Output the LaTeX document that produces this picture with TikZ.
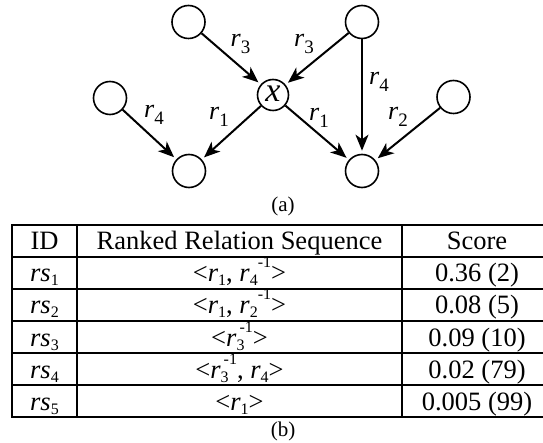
\documentclass[tikz,border=0pt]{standalone}
\usepackage{fontspec}
\setmainfont{Liberation Serif}
\usetikzlibrary{arrows.meta}
\newcommand\glo[1]{\raisebox{-7pt}{\fontsize{19}{19}\selectfont #1}}
\newcommand\tlo[1]{\raisebox{-4pt}{\fontsize{16}{16}\selectfont #1}}
\newcommand\thi[1]{\raisebox{14pt}{\fontsize{16}{16}\selectfont #1}}
\begin{document}
\begin{tikzpicture}[x=1pt,y=-1pt,
  vtx/.style={circle,draw,line width=1.6pt,minimum size=33pt,inner sep=0pt},
  xvtx/.style={circle,draw,line width=1.6pt,minimum size=31pt,inner sep=0pt,font=\fontsize{34}{34}\selectfont\itshape},
  edge/.style={line width=2pt,-{Stealth[length=16pt,width=13pt,inset=4.5pt]},shorten >=3pt},
  lbl/.style={anchor=base west,inner sep=0pt,font=\fontsize{26}{26}\selectfont},
  cell/.style={anchor=base,inner sep=0pt,font=\fontsize{26.5}{26.5}\selectfont},
  capt/.style={anchor=base,inner sep=0pt,font=\fontsize{21}{21}\selectfont},
  gridline/.style={line width=1.4pt}]
\clip (0,0) rectangle (543,443);
% graph nodes
\node[vtx] (tl) at (188.5,22) {};
\node[vtx] (tr) at (362,22) {};
\node[xvtx] (x) at (273,95) {\raisebox{2pt}{x}};
\node[vtx] (ml) at (110,98) {};
\node[vtx] (mr) at (453.5,97) {};
\node[vtx] (bl) at (189,171) {};
\node[vtx] (br) at (362,171) {};
% edges
\draw[edge] (tl) -- (x);
\draw[edge] (tr) -- (x);
\draw[edge] (tr) -- (br);
\draw[edge] (x) -- (bl);
\draw[edge] (x) -- (br);
\draw[edge] (ml) -- (bl);
\draw[edge] (mr) -- (br);
% edge labels
\node[lbl] (l1) at (230.5,47) {\textit{r}\glo{3}};
\node[lbl] (l2) at (294,47) {\textit{r}\glo{3}};
\node[lbl] (l3) at (369,85) {\textit{r}\glo{4}};
\node[lbl] (l4) at (144,118) {\textit{r}\glo{4}};
\node[lbl] (l5) at (209,120) {\textit{r}\glo{1}};
\node[lbl] (l6) at (309,121) {\textit{r}\glo{1}};
\node[lbl] (l7) at (388,120) {\textit{r}\glo{2}};
\node[capt] (ca) at (283,212) {(a)};
% table grid
\draw[gridline] (12,225) rectangle (552,417);
\foreach \yy in {257,289,321,353,385}
  \draw[gridline] (12,\yy) -- (552,\yy);
\draw[gridline] (77,225) -- (77,417);
\draw[gridline] (402,225) -- (402,417);
% header
\node[cell] (h1) at (44.5,250) {ID};
\node[cell] (h2) at (239.5,250) {Ranked Relation Sequence};
\node[cell] (h3) at (477,250) {Score};
% rows
\node[cell] (a1) at (44.5,282) {\textit{rs}\tlo{1}};
\node[cell] (b1) at (239.5,282) {<\textit{r}\tlo{1}, \textit{r}\tlo{4}\thi{-1}>};
\node[cell] (c1) at (477,282) {0.36 (2)};
\node[cell] (a2) at (44.5,314) {\textit{rs}\tlo{2}};
\node[cell] (b2) at (239.5,314) {<\textit{r}\tlo{1}, \textit{r}\tlo{2}\thi{-1}>};
\node[cell] (c2) at (477,314) {0.08 (5)};
\node[cell] (a3) at (44.5,346) {\textit{rs}\tlo{3}};
\node[cell] (b3) at (239.5,346) {<\textit{r}\rlap{\tlo{3}}\kern3pt\thi{-1}>};
\node[cell] (c3) at (477,346) {0.09 (10)};
\node[cell] (a4) at (44.5,378) {\textit{rs}\tlo{4}};
\node[cell] (b4) at (239.5,378) {<\textit{r}\rlap{\tlo{3}}\kern3pt\thi{-1}, \textit{r}\tlo{4}>};
\node[cell] (c4) at (477,378) {0.02 (79)};
\node[cell] (a5) at (44.5,410) {\textit{rs}\tlo{5}};
\node[cell] (b5) at (239.5,410) {<\textit{r}\tlo{1}>};
\node[cell] (c5) at (477,410) {0.005 (99)};
\node[capt] (cb) at (283,436) {(b)};
\end{tikzpicture}
\end{document}
